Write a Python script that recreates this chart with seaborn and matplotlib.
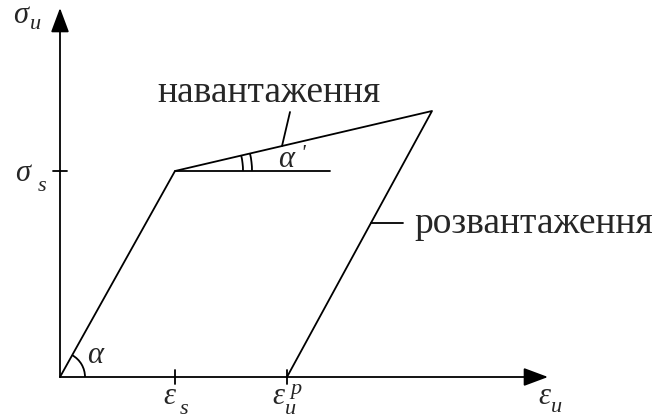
"""Loading / unloading diagram: stress vs strain with elastic-plastic path."""

import matplotlib.pyplot as plt
import numpy as np
import pandas as pd
import seaborn as sns
from matplotlib.patches import Arc

# key points of the diagram (units ~ pixels from the origin)
eps_s = 115.0        # yield strain
sig_s = 206.0        # yield stress
eps_max = 372.0      # strain at the end of loading
sig_max = 266.0      # stress at the end of loading
eps_p = 227.0        # residual plastic strain after unloading

path_eps = [0.0, eps_s, eps_max, eps_p]
path_sig = [0.0, sig_s, sig_max, 0.0]
path_stage = ["elastic", "hardening", "unloading", "unloading"]

axis_x_end = 488.0
axis_y_end = 369.0
horiz_ref_end = 270.0   # end of the horizontal line used for alpha'

label_load = "навантаження"
label_unload = "розвантаження"

sns.set_theme(style="white")
plt.rcParams["font.family"] = ["Liberation Serif", "DejaVu Serif"]

fig = plt.figure(figsize=(6.59, 4.2), dpi=100)
ax = fig.add_axes([0, 0, 1, 1])
ax.set_xlim(-60, 599)
ax.set_ylim(-43, 377)
ax.set_axis_off()

lw = 1.3
df = pd.DataFrame({"eps": path_eps, "sig": path_sig, "stage": path_stage})
sns.lineplot(data=df, x="eps", y="sig", sort=False, estimator=None,
             color="black", lw=lw, ax=ax)

# horizontal reference line from the yield point
ax.plot([eps_s, horiz_ref_end], [sig_s, sig_s], color="black", lw=lw)

# axes with arrows
arrow = dict(arrowstyle="-|>,head_length=0.75,head_width=0.28", color="black",
             lw=lw, mutation_scale=20, shrinkA=0, shrinkB=0)
ax.annotate("", xy=(axis_x_end, 0), xytext=(0, 0), arrowprops=arrow)
ax.annotate("", xy=(0, axis_y_end), xytext=(0, 0), arrowprops=arrow)

# tick marks
tick = 7
ax.plot([-tick, tick], [sig_s, sig_s], color="black", lw=lw)
for xt in (eps_s, eps_p):
    ax.plot([xt, xt], [-tick, tick], color="black", lw=lw)

# angle arcs
a_el = np.degrees(np.arctan2(sig_s, eps_s))
a_hard = np.degrees(np.arctan2(sig_max - sig_s, eps_max - eps_s))
ax.add_patch(Arc((0, 0), 50, 50, theta1=0, theta2=a_el, color="black", lw=lw))
for r in (68, 77):
    ax.add_patch(Arc((eps_s, sig_s), 2 * r, 2 * r, theta1=0, theta2=a_hard,
                     color="black", lw=lw))

# leader lines to the text labels
lx = 222.0
ly = sig_s + (lx - eps_s) * (sig_max - sig_s) / (eps_max - eps_s)
ax.plot([lx, lx + 8], [ly, ly + 34], color="black", lw=lw)

uy = 154.0
ux = eps_max - (sig_max - uy) * (eps_max - eps_p) / sig_max
ax.plot([ux, ux + 32], [uy, uy], color="black", lw=lw)

fs_txt = 27
ax.text(97, 275, label_load, fontsize=fs_txt, ha="left", va="baseline")
ax.text(354, 144, label_unload, fontsize=fs_txt, ha="left", va="baseline")

# symbols: (main, x, y, sub, sx, sy)
fs_main = 22
fs_sub = 16
symbols = [
    ("σ", -47, 354, "u", -30, 348),
    ("σ", -45, 196, "s", -22, 186),
    ("ε", 103, -27, "s", 120, -37),
    ("ε", 212, -27, "u", 225, -37),
    ("ε", 478, -27, "u", 491, -35),
]
for main, x, y, sub, sx, sy in symbols:
    ax.text(x, y, main, fontsize=fs_main, style="italic", ha="left", va="baseline")
    ax.text(sx, sy, sub, fontsize=fs_sub, style="italic", ha="left", va="baseline")
ax.text(230, -17, "p", fontsize=fs_sub, style="italic", ha="left", va="baseline")

ax.text(27, 14, "α", fontsize=fs_main, style="italic", ha="left", va="baseline")
ax.text(218, 210, "α", fontsize=fs_main, style="italic", ha="left", va="baseline")
ax.text(240, 232, "'", fontsize=fs_sub, style="italic", ha="left", va="top")

fig.savefig("out.png", dpi=100)
